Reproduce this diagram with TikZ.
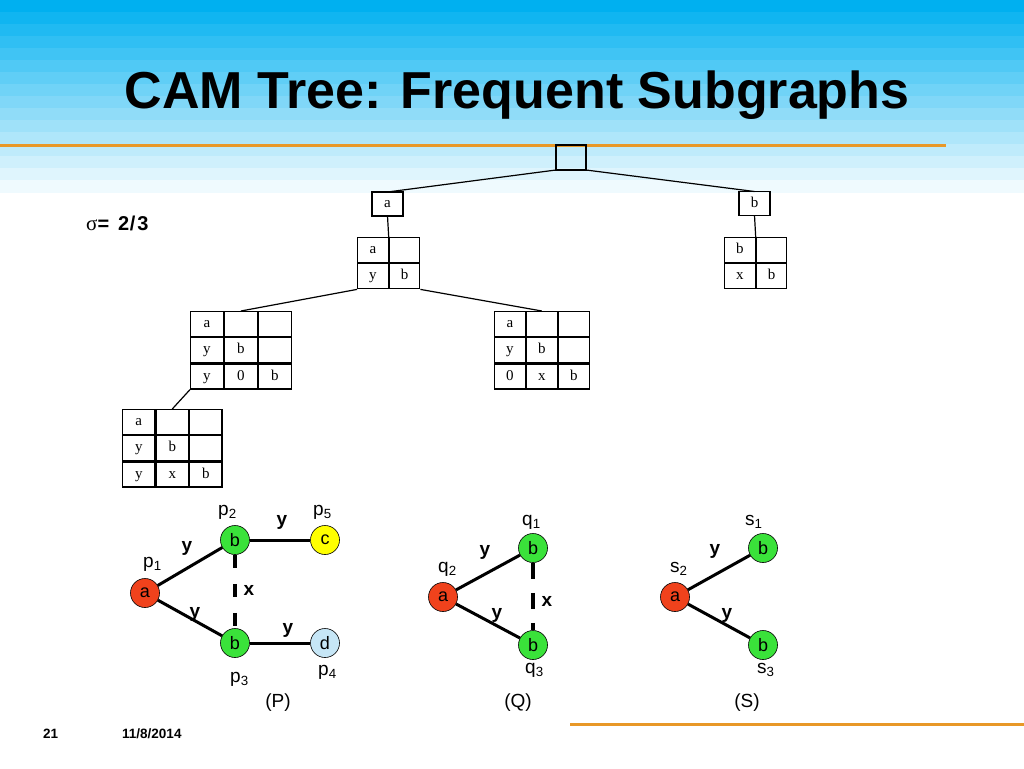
\documentclass[tikz,border=0pt]{standalone}
\usepackage{fontspec}
\setmainfont{Liberation Serif}
\newfontfamily\arialf{Liberation Sans}
\usetikzlibrary{matrix,calc}
\definecolor{skyb}{RGB}{0,176,240}
\definecolor{orangeln}{RGB}{232,152,40}
\definecolor{nred}{RGB}{240,66,28}
\definecolor{ngreen}{RGB}{58,226,58}
\definecolor{nyellow}{RGB}{255,255,0}
\definecolor{nlblue}{RGB}{198,230,246}
\begin{document}
\begin{tikzpicture}[x=1pt,y=-1pt,
  cell/.style={draw, line width=1.2pt, minimum height=25pt, inner sep=0pt, outer sep=0pt,
    text height=10pt, text depth=3pt, anchor=center,
    font=\fontsize{15}{15}\selectfont},
  cam/.style={matrix of nodes, nodes in empty cells, inner sep=0pt, outer sep=0pt,
    column sep=0pt, row sep=0pt, anchor=north west, nodes={cell, minimum width=#1}},
  tline/.style={line width=1.2pt},
  gn/.style={circle, draw, line width=0.6pt, minimum size=29pt, inner sep=0pt,
    font=\arialf\fontsize{18}{18}\selectfont},
  gedge/.style={line width=3pt},
  gdash/.style={line width=4.5pt},
  vlab/.style={anchor=base west, inner sep=0pt, font=\arialf\fontsize{19}{19}\selectfont},
  elab/.style={inner sep=0pt, font=\arialf\bfseries\fontsize{19}{19}\selectfont},
  caption/.style={anchor=base, inner sep=0pt, font=\arialf\fontsize{19}{19}\selectfont},
  foot/.style={anchor=base west, inner sep=0pt, font=\arialf\bfseries\fontsize{13.5}{14}\selectfont}
]
\useasboundingbox (0,0) rectangle (1024,768);
\fill[white] (0,0) rectangle (1024,768);
% banded gradient background
\foreach \i in {0,...,15}{
  \pgfmathsetmacro{\pct}{100-\i*100/16}
  \fill[skyb!\pct!white] (0,\i*12) rectangle (1024,\i*12+12.5);
}
% orange rules
\draw[orangeln, line width=3pt] (0,145) -- (946,145);
\draw[orangeln, line width=3pt] (570,724) -- (1024,724);

% title
\node (title) [anchor=base, inner sep=0pt, font=\arialf\bfseries\fontsize{52}{56}\selectfont]
  at (517,108) {CAM Tree: Frequent Subgraphs};

% sigma
\node (sigma) [anchor=base west, inner sep=0pt] at (86,230)
  {{\fontsize{21}{21}\selectfont σ}{\arialf\bfseries\fontsize{20}{20}\selectfont =\hspace{9pt}2\kern0.5pt/\kern2pt3}};

% tree
\node (root) [cell, minimum width=30pt] at (571,157.5) {};
\node (abox) [cell, minimum width=31pt, minimum height=24pt] at (387.5,204) {a};
\node (bbox) [cell, minimum width=31pt, minimum height=24pt] at (754.5,203.5) {b};
\matrix (t2a) [cam=30.5pt] at (357,237) { a & \\ y & b \\ };
\matrix (t2b) [cam=30.5pt] at (724,237) { b & \\ x & b \\ };
\matrix (t3l) [cam=32.7pt] at (190,311) { a & & \\ y & b & \\ y & 0 & b \\ };
\matrix (t3r) [cam=30.7pt] at (494,311) { a & & \\ y & b & \\ 0 & x & b \\ };
\matrix (t3b) [cam=32.3pt] at (122,409) { a & & \\ y & b & \\ y & x & b \\ };

\draw[tline] (root.south west) -- (abox.north);
\draw[tline] (root.south east) -- (bbox.north);
\draw[tline] (abox.south) -- (t2a.north);
\draw[tline] (bbox.south) -- (t2b.north);
\draw[tline] (t2a.south west) -- (t3l.north);
\draw[tline] (t2a.south east) -- (t3r.north);
\draw[tline] (t3l.south west) -- (t3b.north);

% graph P
\node[gn, fill=nred] (p1) at (145,593) {a};
\node[gn, fill=ngreen] (p2) at (235,540) {b};
\node[gn, fill=nyellow] (p5) at (325,540) {c};
\node[gn, fill=ngreen] (p3) at (235,643) {b};
\node[gn, fill=nlblue] (p4) at (325,643) {d};
\draw[gedge] (p1) -- (p2);
\draw[gedge] (p1) -- (p3);
\draw[gedge] (p2) -- (p5);
\draw[gedge] (p3) -- (p4);
\draw[gdash, dash pattern=on 13pt off 16pt] (p2.south) -- (p3.north);
\node[vlab] (lp2) at (218,515) {p\textsubscript{2}};
\node[vlab] (lp5) at (313,515) {p\textsubscript{5}};
\node[vlab] (lp1) at (143,567) {p\textsubscript{1}};
\node[vlab] (lp3) at (230,682) {p\textsubscript{3}};
\node[vlab] (lp4) at (318,675) {p\textsubscript{4}};
\node[caption] (capP) at (278,707) {(P)};
\node[elab] (ey1) at (187,548) {y};
\node[elab] (ey2) at (282,522) {y};
\node[elab] (ey3) at (195,614) {y};
\node[elab] (ey4) at (288,630) {y};
\node[elab] (ex1) at (249,590) {x};

% graph Q
\node[gn, fill=nred] (q2) at (443,597) {a};
\node[gn, fill=ngreen] (q1) at (533,548) {b};
\node[gn, fill=ngreen] (q3) at (533,645) {b};
\draw[gedge] (q2) -- (q1);
\draw[gedge] (q2) -- (q3);
\draw[gdash, dash pattern=on 16pt off 14pt] (q1.south) -- (q3.north);
\node[vlab] (lq1) at (522,525) {q\textsubscript{1}};
\node[vlab] (lq2) at (438,572) {q\textsubscript{2}};
\node[vlab] (lq3) at (525,673) {q\textsubscript{3}};
\node[caption] (capQ) at (518,707) {(Q)};
\node[elab] (fy1) at (485,552) {y};
\node[elab] (fy2) at (497,615) {y};
\node[elab] (fx1) at (547,601) {x};

% graph S
\node[gn, fill=nred] (s2) at (675,597) {a};
\node[gn, fill=ngreen] (s1) at (763,548) {b};
\node[gn, fill=ngreen] (s3) at (763,645) {b};
\draw[gedge] (s2) -- (s1);
\draw[gedge] (s2) -- (s3);
\node[vlab] (ls1) at (745,525) {s\textsubscript{1}};
\node[vlab] (ls2) at (670,572) {s\textsubscript{2}};
\node[vlab] (ls3) at (757,673) {s\textsubscript{3}};
\node[caption] (capS) at (747,707) {(S)};
\node[elab] (gy1) at (715,551) {y};
\node[elab] (gy2) at (727,615) {y};

% footer
\node[foot] (pagenum) at (43,738) {21};
\node[foot] (date) at (122,738) {11/8/2014};
\end{tikzpicture}
\end{document}
